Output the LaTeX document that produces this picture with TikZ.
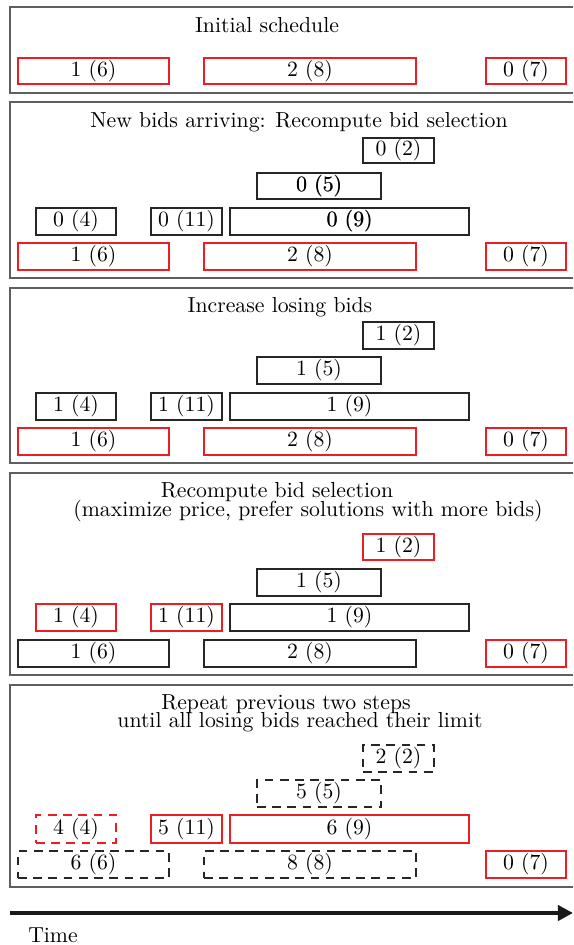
\documentclass[tikz,border=0pt]{standalone}
\usetikzlibrary{arrows.meta}
\definecolor{bidred}{RGB}{236,30,36}
\definecolor{framegray}{RGB}{95,95,95}
\def\pxu{0.46pt}
\newcommand\bidbox[7]{%
  \node[#2, minimum width={(#5-#3)*\pxu}, minimum height={(#6-#4)*\pxu}] (#1) at ({(#3+#5)/2},{(#4+#6)/2}) {#7};}
\newcommand\fbold[1]{\rlap{\kern0.18pt #1}#1}
\tikzset{
  bx/.style={draw=black!85, line width=0.7pt, inner sep=0pt, font=\normalsize},
  bxthick/.style={bx, line width=0.95pt},
  rbx/.style={draw=bidred, line width=1.35pt, inner sep=0pt},
  dbx/.style={bx, dash pattern=on 4pt off 3pt},
  rdbx/.style={rbx, dash pattern=on 4pt off 3pt},
  panel/.style={draw=framegray, line width=0.5pt},
  ttl/.style={inner sep=0pt, anchor=center}
}
\begin{document}
\begin{tikzpicture}[x=0.46pt, y=-0.46pt]
\useasboundingbox (0,0) rectangle (573,945);
\begin{scope}
\clip (0,0) rectangle (573,945);
% panels
\draw[panel] (10,7) rectangle (590,93);
\draw[panel] (10,102) rectangle (590,278);
\draw[panel] (10,288) rectangle (590,463);
\draw[panel] (10,473) rectangle (590,675);
\draw[panel] (10,685) rectangle (590,887);

% panel 1
\node[ttl] (t1) at (267,25) {Initial schedule};
\bidbox{a6}{rbx}{18}{58}{169}{84}{1 (6)}
\bidbox{a8}{rbx}{204}{58}{416}{84}{2 (8)}
\bidbox{a7}{rbx}{486}{58}{566}{84}{0 (7)}

% panel 2
\node[ttl] (t2) at (299,122) {New bids arriving: Recompute bid selection};
\bidbox{b2}{bx}{363}{138}{434}{163}{0 (2)}
\bidbox{b5}{bxthick}{257}{173}{381}{199}{\fbold{0 (5)}}
\bidbox{b4}{bx}{36}{208}{116}{235}{0 (4)}
\bidbox{b11}{bx}{151}{208}{222}{235}{0 (11)}
\bidbox{b9}{bxthick}{230}{208}{469}{235}{\fbold{0 (9)}}
\bidbox{b6}{rbx}{18}{243}{169}{270}{1 (6)}
\bidbox{b8}{rbx}{204}{243}{416}{270}{2 (8)}
\bidbox{b7}{rbx}{486}{243}{566}{270}{0 (7)}

% panel 3
\node[ttl] (t3) at (280,307) {Increase losing bids};
\bidbox{c2}{bx}{363}{322}{434}{349}{1 (2)}
\bidbox{c5}{bx}{257}{357}{381}{384}{1 (5)}
\bidbox{c4}{bx}{36}{393}{116}{420}{1 (4)}
\bidbox{c11}{bx}{151}{393}{222}{420}{1 (11)}
\bidbox{c9}{bx}{230}{393}{469}{420}{1 (9)}
\bidbox{c6}{rbx}{18}{428}{169}{455}{1 (6)}
\bidbox{c8}{rbx}{204}{428}{416}{455}{2 (8)}
\bidbox{c7}{rbx}{486}{428}{566}{455}{0 (7)}

% panel 4
\node[ttl] (t4a) at (277,492) {Recompute bid selection};
\node[ttl] (t4b) at (308,511) {(maximize price, prefer solutions with more bids)};
\bidbox{d2}{rbx}{363}{534}{434}{560}{1 (2)}
\bidbox{d5}{bx}{257}{569}{381}{596}{1 (5)}
\bidbox{d4}{rbx}{36}{604}{116}{631}{1 (4)}
\bidbox{d11}{rbx}{151}{604}{222}{631}{1 (11)}
\bidbox{d9}{bx}{230}{604}{469}{631}{1 (9)}
\bidbox{d6}{bx}{18}{640}{169}{667}{1 (6)}
\bidbox{d8}{bx}{204}{640}{416}{667}{2 (8)}
\bidbox{d7}{rbx}{486}{640}{566}{667}{0 (7)}

% panel 5
\node[ttl] (t5a) at (286,704) {Repeat previous two steps};
\node[ttl] (t5b) at (300,722) {until all losing bids reached their limit};
\bidbox{e2}{dbx}{363}{745}{434}{772}{2 (2)}
\bidbox{e5}{dbx}{257}{780}{381}{807}{5 (5)}
\bidbox{e4}{rdbx}{36}{815}{116}{843}{4 (4)}
\bidbox{e11}{rbx}{151}{815}{222}{843}{5 (11)}
\bidbox{e9}{rbx}{230}{815}{469}{843}{6 (9)}
\bidbox{e6}{dbx}{18}{851}{169}{878}{6 (6)}
\bidbox{e8}{dbx}{204}{851}{416}{878}{8 (8)}
\bidbox{e7}{rbx}{486}{851}{566}{878}{0 (7)}

% time axis
\coordinate (ts) at (10,913);
\coordinate (te) at (573,913);
\draw[line width=1.9pt, black!90, -{Triangle[length=7pt,width=7pt]}] (ts) -- (te);
\node[ttl] (time) at (53,935) {Time};
\end{scope}
\end{tikzpicture}
\end{document}
